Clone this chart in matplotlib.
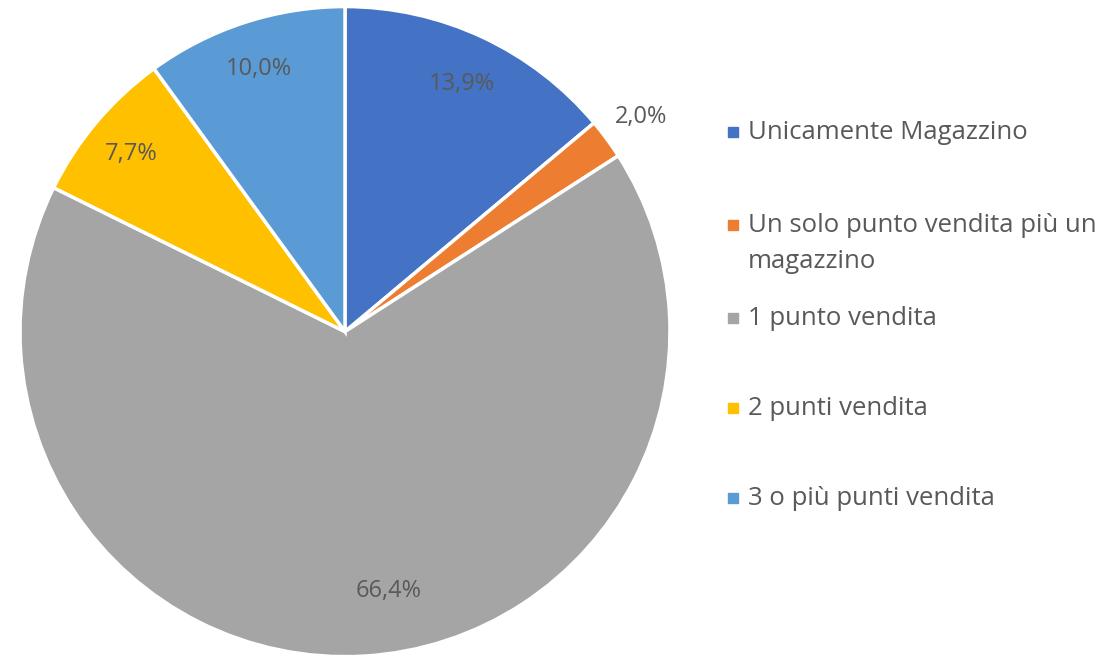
import matplotlib
matplotlib.use("Agg")
import matplotlib.pyplot as plt
import numpy as np
from matplotlib.lines import Line2D

categories = ["Unicamente Magazzino", "Un solo punto vendita più un\nmagazzino",
              "1 punto vendita", "2 punti vendita", "3 o più punti vendita"]
values = [13.9, 2.0, 66.4, 7.7, 10.0]
colors = ["#4472C4", "#ED7D31", "#A5A5A5", "#FFC000", "#5B9BD5"]
label_dist = [0.85, 1.13, 0.80, 0.86, 0.86]
label_shift = [0, 0, 6.5, 0, 0]  # degrees, Excel nudges the big label

plt.rcParams['font.family'] = ['Open Sans', 'DejaVu Sans']
txt_color = "#595959"

fig = plt.figure(figsize=(11.12, 6.56), dpi=100)
ax = fig.add_axes([0.018, -0.001, 0.5845, 0.991])
wedges, _ = ax.pie(values, colors=colors, startangle=90, counterclock=False,
                   wedgeprops=dict(edgecolor="white", linewidth=2.5))
ax.set_xlim(-1, 1)
ax.set_ylim(-1, 1)
ax.set_aspect("auto")

for w, v, d, s in zip(wedges, values, label_dist, label_shift):
    ang = np.deg2rad((w.theta1 + w.theta2) / 2 + s)
    ax.text(d * np.cos(ang), d * np.sin(ang), f"{v:.1f}%".replace(".", ","),
            ha="center", va="center_baseline", fontsize=17, color=txt_color)

# legend drawn by hand so the marker sits on the first text line
leg_y = [132, 225, 318, 408, 498]
W, H = 1112, 656
for c, lab, y in zip(colors, categories, leg_y):
    fy = 1 - y / H
    fig.add_artist(Line2D([733 / W], [fy], marker="s", markersize=7,
                          color=c, transform=fig.transFigure))
    fig.text(748 / W, fy + 12 / H, lab, ha="left", va="top", fontsize=18.5,
             color=txt_color, linespacing=1.6)

fig.savefig("out.png", dpi=100)
